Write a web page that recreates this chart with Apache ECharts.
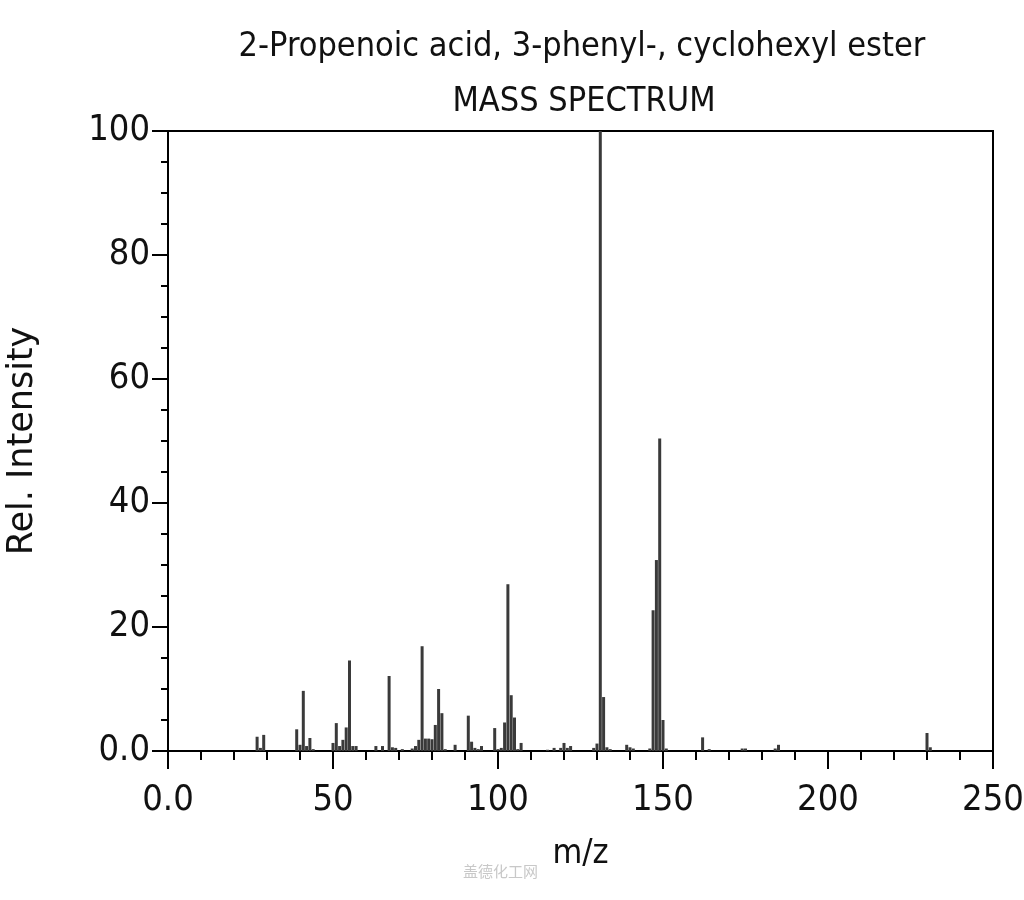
<!DOCTYPE html>
<html>
<head>
<meta charset="utf-8">
<script src="https://cdn.jsdelivr.net/npm/echarts@6/dist/echarts.min.js"></script>
<style>
html,body{margin:0;padding:0;background:#fff;}
#chart{width:1024px;height:900px;}
</style>
</head>
<body>
<div id="chart"></div>
<script>
const titleLine1 = "2-Propenoic acid, 3-phenyl-, cyclohexyl ester";
const titleLine2 = "MASS SPECTRUM";
const xAxisName = "m/z";
const yAxisName = "Rel. Intensity";
const watermark = "盖德化工网";

const mz = [27,28,29,39,40,41,42,43,44,50,51,52,53,54,55,56,57,63,65,67,68,69,71,74,75,76,77,78,79,80,81,82,83,84,87,91,92,93,94,95,99,100,101,102,103,104,105,106,107,115,117,119,120,121,122,129,130,131,132,133,134,139,140,141,146,147,148,149,150,151,162,164,174,175,184,185,230,231];
const intensity = [2.3,0.5,2.6,3.5,1.0,9.7,0.8,2.1,0.3,1.3,4.5,0.8,1.8,3.8,14.6,0.8,0.8,0.8,0.8,12.1,0.6,0.5,0.3,0.4,0.8,1.8,16.9,2.0,2.0,1.9,4.2,10.0,6.1,0.3,1.0,5.7,1.5,0.5,0.3,0.8,3.7,0.3,0.5,4.6,26.9,9.0,5.4,0.3,1.3,0.2,0.5,0.5,1.3,0.5,0.8,0.5,1.2,100,8.7,0.6,0.3,1.0,0.6,0.4,0.4,22.7,30.8,50.4,5.0,0.4,2.2,0.3,0.4,0.4,0.4,1.0,2.9,0.6];
const yTicks = [0,20,40,60,80,100];
const xTicks = [0,50,100,150,200,250];

const peaks = mz.map((m, i) => [m, intensity[i]]);
const FONT = "'DejaVu Sans Condensed', 'DejaVu Sans', sans-serif";
const fmt = v => (v === 0 ? '0.0' : String(v));

const chart = echarts.init(document.getElementById('chart'), null, {renderer: 'canvas'});
chart.setOption({
  backgroundColor: '#ffffff',
  animation: false,
  title: [
    {text: titleLine1, left: 577, top: 25, textAlign: 'center',
     textStyle: {fontFamily: FONT, fontSize: 34, fontWeight: 'normal', color: '#111'}},
    {text: titleLine2, left: 579, top: 80, textAlign: 'center',
     textStyle: {fontFamily: FONT, fontSize: 34, fontWeight: 'normal', color: '#111'}}
  ],
  grid: {left: 168, right: 31, top: 131, bottom: 149, show: true,
         outerBoundsMode: 'none', containLabel: false,
         borderColor: '#000', borderWidth: 2, backgroundColor: 'transparent'},
  xAxis: {
    type: 'value', min: xTicks[0], max: xTicks[xTicks.length - 1], interval: 50,
    name: xAxisName, nameLocation: 'middle', nameGap: 86,
    nameTextStyle: {fontFamily: FONT, fontSize: 34, color: '#111'},
    axisLine: {show: true, onZero: false, lineStyle: {color: '#000', width: 2}},
    axisTick: {show: true, length: 18, lineStyle: {color: '#000', width: 2}},
    minorTick: {show: true, splitNumber: 5, length: 9, lineStyle: {color: '#000', width: 2}},
    splitLine: {show: false},
    axisLabel: {fontFamily: FONT, fontSize: 36, color: '#111', margin: 32, formatter: fmt}
  },
  yAxis: {
    type: 'value', min: yTicks[0], max: yTicks[yTicks.length - 1], interval: 20,
    name: yAxisName, nameLocation: 'middle', nameGap: 128, nameRotate: 90,
    nameTextStyle: {fontFamily: "'DejaVu Sans', sans-serif", fontSize: 35, color: '#111'},
    axisLine: {show: true, lineStyle: {color: '#000', width: 2}},
    axisTick: {show: true, length: 16, lineStyle: {color: '#000', width: 2}},
    minorTick: {show: true, splitNumber: 4, length: 7, lineStyle: {color: '#000', width: 2}},
    splitLine: {show: false},
    axisLabel: {fontFamily: FONT, fontSize: 36, color: '#111', margin: 18, formatter: fmt}
  },
  graphic: [
    {type: 'text', left: 463, top: 864,
     style: {text: watermark, fill: '#c8c8c8', font: "15px 'Noto Sans CJK SC', sans-serif"}}
  ],
  series: [{
    type: 'bar', data: peaks, barWidth: 3, barGap: '-100%',
    itemStyle: {color: '#3a3a3a'},
    emphasis: {disabled: true}
  }]
});
</script>
</body>
</html>
